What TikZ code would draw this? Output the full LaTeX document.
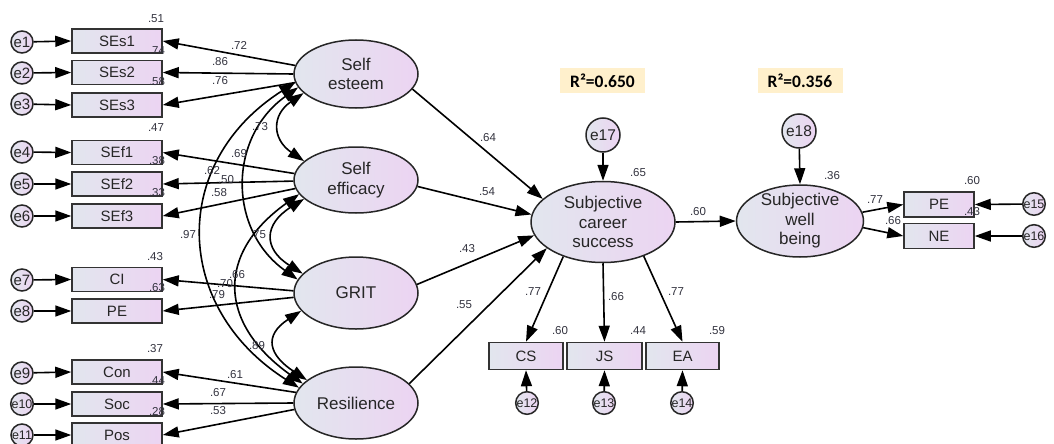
\documentclass[tikz,border=0pt]{standalone}
\usepackage{fontspec}
\setmainfont{Liberation Sans}
\newfontfamily\calib{Carlito}
\usetikzlibrary{arrows.meta,shapes.geometric}
\definecolor{gl}{RGB}{226,230,238}
\definecolor{gr}{RGB}{236,212,242}
\definecolor{rbox}{RGB}{255,240,204}
\definecolor{lab}{RGB}{50,50,62}
\tikzset{
 obs/.style={draw=black!80, line width=1.5pt, left color=gl, right color=gr, minimum width=90pt, minimum height=24pt, inner sep=0pt, font=\fontsize{15}{15}\selectfont, text=black!85},
 lat/.style={ellipse, draw=black!85, line width=1.5pt, left color=gl, right color=gr, inner sep=0pt},
 ltext/.style={align=center, inner sep=0pt, font=\fontsize{17}{19.5}\selectfont, text=black!85},
 err/.style={circle, draw=black!85, line width=1.5pt, left color=gl, right color=gr, inner sep=0pt, minimum size=22pt, font=\fontsize{15}{15}\selectfont, text=black!85},
 errs/.style={err, font=\fontsize{12.5}{12.5}\selectfont},
 errb/.style={err, minimum size=34pt, font=\fontsize{15.5}{15.5}\selectfont},
 arr/.style={line width=1.6pt, -{Triangle[length=16pt,width=11pt]}},
 cov/.style={line width=1.6pt, {Triangle[length=16pt,width=11pt]}-{Triangle[length=16pt,width=11pt]}},
 val/.style={font=\fontsize{11.5}{11.5}\selectfont, text=lab, inner sep=0pt},
 rsq/.style={fill=rbox, minimum width=85pt, minimum height=25pt, inner sep=0pt, font=\calib\bfseries\fontsize{17.5}{17.5}\selectfont},
}
\begin{document}
\begin{tikzpicture}[x=1pt,y=1pt]
\useasboundingbox (0,0) rectangle (1054,-444);
\clip (0,0) rectangle (1054,-444);
% latent variables
\node[lat, minimum width=124pt, minimum height=68pt, label={[ltext]center:{Self\\esteem}}] (SE) at (356,-74) {};
\node[lat, minimum width=124pt, minimum height=66pt, label={[ltext]center:{Self\\efficacy}}] (SEf) at (356,-180) {};
\node[lat, minimum width=124pt, minimum height=72pt, label={[ltext]center:{GRIT}}] (GR) at (356,-293) {};
\node[lat, minimum width=124pt, minimum height=72pt, label={[ltext]center:{Resilience}}] (RS) at (356,-403) {};
\node[lat, minimum width=144pt, minimum height=81pt, label={[ltext]center:{Subjective\\career\\success}}] (SCS) at (603,-222) {};
\node[lat, minimum width=127pt, minimum height=72pt, label={[ltext]center:{Subjective\\well\\being}}] (SWB) at (800,-221) {};
% observed left
\node[obs] (SEs1) at (117,-41) {SEs1};
\node[obs] (SEs2) at (117,-72.5) {SEs2};
\node[obs] (SEs3) at (117,-105) {SEs3};
\node[obs] (SEf1) at (117,-152.5) {SEf1};
\node[obs] (SEf2) at (117,-184) {SEf2};
\node[obs] (SEf3) at (117,-216) {SEf3};
\node[obs] (CI) at (117,-279.5) {CI};
\node[obs] (PEg) at (117,-311) {PE};
\node[obs] (Con) at (117,-372) {Con};
\node[obs] (Soc) at (117,-404) {Soc};
\node[obs] (Pos) at (117,-435) {Pos};
% errors left
\node[err] (e1) at (22,-42) {e1};
\node[err] (e2) at (22,-73) {e2};
\node[err] (e3) at (22,-104) {e3};
\node[err] (e4) at (22,-152) {e4};
\node[err] (e5) at (22,-184) {e5};
\node[err] (e6) at (22,-216) {e6};
\node[err] (e7) at (22,-280) {e7};
\node[err] (e8) at (22,-311) {e8};
\node[err] (e9) at (22,-373) {e9};
\node[errs] (e10) at (22,-404) {e10};
\node[errs] (e11) at (22,-435) {e11};
% bottom observed
\node[obs, minimum width=74pt, minimum height=27pt] (CS) at (526,-356) {CS};
\node[obs, minimum width=75pt, minimum height=27pt] (JS) at (604.5,-356) {JS};
\node[obs, minimum width=73pt, minimum height=27pt] (EA) at (682.5,-356) {EA};
\node[errs] (e12) at (527,-403) {e12};
\node[errs] (e13) at (604,-403) {e13};
\node[errs] (e14) at (682,-403) {e14};
% right observed
\node[obs, minimum width=70pt, minimum height=25pt] (PEw) at (939,-204.5) {PE};
\node[obs, minimum width=70pt, minimum height=25pt] (NE) at (939,-236) {NE};
\node[errs] (e15) at (1034,-204) {e15};
\node[errs] (e16) at (1034,-236) {e16};
% disturbances
\node[errb] (e17) at (603,-135) {e17};
\node[errb] (e18) at (799,-131) {e18};
% R2 boxes
\node[rsq] (r1) at (602.5,-80.5) {R²=0.650};
\node[rsq] (r2) at (800,-80.5) {R²=0.356};
% error arrows
\foreach \e/\b in {e1/SEs1,e2/SEs2,e3/SEs3,e4/SEf1,e5/SEf2,e6/SEf3,e7/CI,e8/PEg,e9/Con,e10/Soc,e11/Pos}
  \draw[arr] (\e) -- (\b.west);
\draw[arr] (e12) -- (CS.south);
\draw[arr] (e13) -- (JS.south);
\draw[arr] (e14) -- (EA.south);
\draw[arr] (e15) -- (PEw.east);
\draw[arr] (e16) -- (NE.east);
\draw[arr] (e17) -- (SCS.north);
\draw[arr] (e18) -- (SWB.north);
% loadings
\draw[arr] (SE.172) -- (SEs1.east);
\draw[arr] (SE.180) -- (SEs2.east);
\draw[arr] (SE.188) -- (SEs3.east);
\draw[arr] (SEf.174) -- (SEf1.east);
\draw[arr] (SEf.181) -- (SEf2.east);
\draw[arr] (SEf.188) -- (SEf3.east);
\draw[arr] (GR.178) -- (CI.east);
\draw[arr] (GR.184) -- (PEg.east);
\draw[arr] (RS.170) -- (Con.east);
\draw[arr] (RS.180) -- (Soc.east);
\draw[arr] (RS.186) -- (Pos.east);
\draw[arr] (SCS.221) -- (CS.north);
\draw[arr] (SCS.south) -- (JS.north);
\draw[arr] (SCS.-40) -- (EA.north);
\draw[arr] (SWB.8) -- (PEw.west);
\draw[arr] (SWB.-6) -- (NE.west);
% structural paths
\draw[arr] (SE.-15) -- (SCS.159);
\draw[arr] (SEf.-6) -- (SCS.174);
\draw[arr] (GR.8) -- (SCS.191);
\draw[arr] (RS.20) -- (SCS.205);
\draw[arr] (SCS.east) -- (SWB.west);
% covariances
\draw[cov] (SE.200) .. controls +(-32,-22) and +(-32,22) .. (SEf.160);
\draw[cov] (SE.193) .. controls +(-70,-50) and +(-70,50) .. (GR.167);
\draw[cov] (SE.188) .. controls +(-126,-80) and +(-126,80) .. (RS.165);
\draw[cov] (SEf.200) .. controls +(-40,-25) and +(-40,25) .. (GR.160);
\draw[cov] (SEf.194) .. controls +(-84,-60) and +(-84,60) .. (RS.160);
\draw[cov] (GR.198) .. controls +(-38,-25) and +(-38,25) .. (RS.155);
% value labels
\foreach \x/\y/\t in {156/19/.51, 157/51/.74, 157/82/.58, 156/128/.47, 157/161/.38, 157/193/.33, 155/257/.43, 157/288/.63, 155/349/.37, 157/381/.44, 157/412/.28,
 239/45/.72, 220/62/.86, 220/81/.76, 239/154/.69, 212/171/.62, 226/180/.50, 219/193/.58, 237/275/.66, 225/284/.70, 217/295/.79, 235/375/.61, 218/393/.67, 218/411/.53,
 260/127/.73, 188/235/.97, 258/235/.75, 257/346/.89,
 488/138/.64, 487/192/.54, 467/249/.43, 464/305/.55, 638/173/.65, 698/212/.60, 832/176/.36,
 533/292/.77, 616/297/.66, 676/292/.77, 560/331/.60, 638/331/.44, 717/331/.59,
 875/200/.77, 893/221/.66, 972/181/.60, 972/212/.43}
  \node[val] at (\x,-\y) {\t};
\end{tikzpicture}
\end{document}
